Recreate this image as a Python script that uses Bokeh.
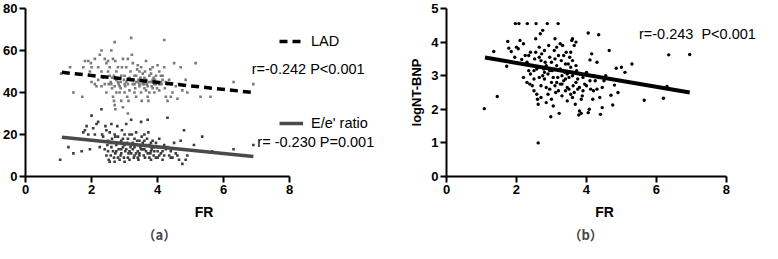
from bokeh.plotting import figure
from bokeh.layouts import row
from bokeh.models import Range1d, FixedTicker, Label, Legend, LegendItem, Title
from bokeh.embed import file_html
from bokeh.resources import INLINE

# ---------------- data ----------------
lad_pairs = [
    (1.08,49),(1.35,52),(1.45,40),(1.72,38),(1.75,52),(1.8,55),(1.9,55),(1.95,50),(1.98,54),(2.05,48),
    (2.0,45),(2.1,44),(2.15,43),(2.2,52),(2.25,58),(2.3,60),(2.1,56),(2.35,47),(2.4,44),(2.45,40),
    (2.5,55),(2.55,52),(2.6,60),(2.65,56),(2.7,64),(2.72,55),(2.75,50),(2.78,47),(2.8,45),(2.82,44),
    (2.6,44),(2.62,42),(2.65,38),(2.68,36),(2.7,34),(2.72,32),(2.75,40),(2.85,43),(2.88,42),(2.9,48),
    (2.92,52),(2.95,56),(2.98,46),(3.0,44),(3.02,43),(3.05,45),(3.08,38),(3.1,30),(3.12,36),(3.15,47),
    (3.18,50),(3.2,66),(3.22,58),(3.25,54),(3.28,46),(3.3,44),(3.32,42),(3.35,48),(3.38,51),(3.4,53),
    (3.42,46),(3.45,44),(3.48,47),(3.5,40),(3.52,36),(3.55,49),(3.58,45),(3.6,42),(3.62,50),(3.65,46),
    (3.68,44),(3.7,38),(3.72,36),(3.75,48),(3.78,51),(3.8,45),(3.82,43),(3.85,42),(3.88,47),(3.9,40),
    (3.92,46),(3.95,44),(3.98,42),(4.0,53),(4.05,50),(4.1,45),(4.12,44),(4.15,48),(4.2,65),(4.22,42),
    (4.25,38),(4.3,36),(4.35,46),(4.4,44),(4.45,40),(4.5,54),(4.55,43),(4.6,37),(4.65,44),(4.7,52),
    (4.75,41),(4.85,46),(4.9,40),(5.15,54),(5.3,38),(5.6,38),(6.3,45),(6.9,44),(2.0,52),(2.2,46),
    (2.3,50),(2.45,54),(2.55,48),(2.58,45),(2.7,43),(2.85,40),(2.9,36),(2.95,33),(3.0,48),(3.05,52),
    (3.1,56),(3.15,41),(3.25,44),(3.3,40),(3.35,38),(3.4,45),(3.45,50),(3.5,52),(3.55,44),(3.6,47),
    (3.65,55),(3.7,43),(3.75,45),(3.8,49),(3.85,46),(3.9,44),(4.0,45),(4.05,41),(4.1,48),(4.2,52),
    (4.25,45),(4.3,44),(2.4,56),(2.5,50),(2.62,47),(2.75,46),(2.88,45),(3.0,40),(3.2,46),(3.3,48),
    (3.45,43),(3.6,44),(3.75,40),(3.95,48),(4.05,44),(2.3,43),(2.52,44),(2.68,48),(2.8,52),(3.1,44),
    (3.35,45),(3.5,46),(3.65,41),(3.85,52),(4.15,46),(4.4,38),
]
ee_pairs = [
    (1.05,8),(1.3,14),(1.45,11),(1.7,12),(1.75,21),(1.8,22),(1.85,24),(1.9,20),(1.95,13),(2.0,29),
    (2.05,23),(2.1,20),(2.15,25),(2.2,26),(2.25,14),(2.3,32),(2.32,20),(2.35,19),(2.4,13),(2.42,24),
    (2.45,22),(2.48,15),(2.5,12),(2.52,8),(2.55,7),(2.58,10),(2.6,25),(2.62,18),(2.65,16),(2.68,9),
    (2.7,7),(2.72,11),(2.75,15),(2.78,24),(2.8,19),(2.82,13),(2.85,8),(2.88,10),(2.9,17),(2.92,22),
    (2.95,14),(2.98,9),(3.0,7),(3.02,12),(3.05,25),(3.08,16),(3.1,18),(3.12,11),(3.15,8),(3.18,14),
    (3.2,27),(3.22,20),(3.25,13),(3.28,9),(3.3,10),(3.32,15),(3.35,21),(3.38,17),(3.4,12),(3.42,8),
    (3.45,11),(3.48,14),(3.5,26),(3.52,19),(3.55,16),(3.58,10),(3.6,13),(3.62,9),(3.65,12),(3.68,18),
    (3.7,27),(3.72,21),(3.75,15),(3.78,11),(3.8,8),(3.82,13),(3.85,17),(3.88,10),(3.9,14),(3.95,9),
    (4.0,12),(4.05,18),(4.1,11),(4.15,8),(4.2,15),(4.25,13),(4.3,28),(4.35,10),(4.4,12),(4.45,9),
    (4.5,16),(4.55,11),(4.6,10),(4.65,8),(4.7,17),(4.75,6),(4.8,22),(4.85,8),(4.9,10),(5.1,15),
    (5.35,19),(5.65,12),(6.3,13),(6.9,15),(2.6,14),(2.7,20),(2.75,12),(2.85,16),(2.95,18),(3.05,13),
    (3.1,9),(3.15,20),(3.25,16),(3.35,11),(3.45,17),(3.55,13),(3.6,20),(3.7,11),(3.8,16),(3.9,12),
    (4.0,9),(4.1,14),(4.2,10),(2.5,17),(2.55,21),(2.65,12),(2.8,9),(2.9,13),(3.0,15),(3.2,11),
    (3.3,18),(3.4,9),(3.5,13),(3.65,15),(3.75,9),(3.85,14),(3.95,16),(4.05,10),(4.15,12),(4.3,14),
    (4.4,9),(2.45,10),(2.58,16),(2.72,19),(2.9,11),(3.0,20),(3.15,12),(3.3,14),(3.45,10),(3.6,17),
    (3.8,12),(4.0,14),
]
bnp_pairs = [
    (1.08,2.02),(1.35,3.72),(1.45,2.38),(1.72,3.28),(1.75,4.02),(1.78,3.82),(1.85,3.72),(1.95,3.55),
    (1.97,4.55),(2.07,4.55),(2.0,3.85),(2.05,3.8),(2.1,4.05),(2.15,3.48),(2.2,2.95),(2.25,3.6),
    (2.3,2.8),(2.31,4.55),(2.35,3.15),(2.38,2.75),(2.4,3.7),(2.45,3.3),(2.5,2.55),(2.52,3.5),
    (2.55,4.1),(2.56,4.55),(2.58,3.2),(2.6,2.3),(2.62,1.0),(2.62,2.15),(2.65,3.85),(2.68,4.25),
    (2.7,2.7),(2.72,3.65),(2.75,4.35),(2.78,3.2),(2.8,2.9),(2.82,3.4),(2.85,2.65),(2.88,4.55),
    (2.9,3.05),(2.92,3.9),(2.95,2.6),(2.98,1.78),(3.0,2.8),(3.02,3.15),(3.05,2.1),(3.08,3.75),
    (3.1,4.1),(3.12,2.5),(3.15,3.3),(3.18,2.95),(3.19,4.55),(3.2,3.6),(3.22,1.88),(3.25,2.75),
    (3.28,3.45),(3.3,2.4),(3.32,3.9),(3.35,2.85),(3.38,3.1),(3.4,2.55),(3.42,3.7),(3.45,2.25),
    (3.48,3.35),(3.5,2.95),(3.52,3.55),(3.55,2.45),(3.58,4.05),(3.6,3.0),(3.62,2.7),(3.65,3.9),
    (3.68,2.15),(3.7,2.8),(3.72,3.15),(3.75,2.6),(3.78,1.83),(3.8,1.95),(3.82,3.05),(3.85,1.88),
    (3.88,2.4),(3.9,2.95),(3.95,2.75),(4.0,3.1),(4.05,1.9),(4.05,4.27),(4.08,2.0),(4.1,3.47),
    (4.12,2.6),(4.15,3.65),(4.18,2.3),(4.2,2.55),(4.25,2.85),(4.3,3.4),(4.35,4.22),(4.38,2.35),
    (4.4,1.85),(4.45,2.05),(4.45,2.65),(4.5,2.85),(4.55,3.0),(4.65,3.75),(4.7,2.42),(4.75,2.13),
    (4.8,2.72),(4.85,3.22),(4.9,2.5),(5.0,3.25),(5.1,3.1),(5.3,3.35),(5.65,2.27),(6.2,2.33),
    (6.3,2.68),(6.35,3.62),(6.95,3.63),(2.2,3.95),(2.3,3.4),(2.4,3.05),(2.5,2.9),(2.55,3.7),
    (2.6,3.25),(2.65,2.95),(2.7,3.45),(2.75,3.0),(2.8,3.75),(2.85,3.3),(2.9,2.45),(2.95,3.55),
    (3.0,3.4),(3.05,2.95),(3.1,2.7),(3.15,3.85),(3.2,2.55),(3.25,3.2),(3.3,3.0),(3.35,3.6),
    (3.4,2.9),(3.45,3.05),(3.5,2.6),(3.55,3.25),(3.6,3.45),(3.65,2.5),(3.7,3.3),(3.75,2.9),
    (3.8,2.65),(3.9,2.55),(4.0,2.7),(4.1,2.85),(4.2,3.0),(4.3,2.6),(2.45,2.7),(2.58,2.45),
    (2.7,2.35),(2.85,2.2),(3.0,2.3),(3.15,2.8),(3.3,2.75),(3.45,2.65),(3.6,2.35),(3.85,2.3),
    (2.35,3.6),(2.5,3.15),(2.65,3.55),(2.8,3.1),(2.95,3.15),(3.1,3.5),(3.25,3.95),(3.4,3.35),
    (3.55,3.7),(3.7,4.0),(3.6,4.1),
]
lad_fr = [p[0] for p in lad_pairs]
lad_val = [p[1] for p in lad_pairs]
ee_fr = [p[0] for p in ee_pairs]
ee_val = [p[1] for p in ee_pairs]
bnp_fr = [p[0] for p in bnp_pairs]
bnp_val = [p[1] for p in bnp_pairs]

# regression line end points
lad_fit_x = [1.1, 6.9]
lad_fit_y = [49.6, 40.0]
ee_fit_x = [1.1, 6.9]
ee_fit_y = [18.7, 9.5]
bnp_fit_x = [1.1, 6.95]
bnp_fit_y = [3.54, 2.5]

x_ticks = [0, 2, 4, 6, 8]
a_y_ticks = [0, 20, 40, 60, 80]
b_y_ticks = [0, 1, 2, 3, 4, 5]

FONT = "Liberation Sans"


def style_axes(p):
    for ax in (p.xaxis[0], p.yaxis[0]):
        ax.axis_line_width = 2
        ax.axis_line_color = "black"
        ax.major_tick_line_width = 2
        ax.major_tick_line_color = "black"
        ax.major_tick_out = 6
        ax.major_tick_in = 0
        ax.minor_tick_line_color = None
        ax.major_label_text_font = FONT
        ax.major_label_text_font_style = "bold"
        ax.major_label_text_font_size = "13px"
        ax.major_label_text_color = "black"
        ax.major_label_standoff = 2
        ax.axis_label_text_font = FONT
        ax.axis_label_text_font_style = "bold"
        ax.axis_label_text_font_size = "14px"
        ax.axis_label_text_color = "black"
    p.xgrid.visible = False
    p.ygrid.visible = False
    p.outline_line_color = None


# ---------------- panel (a) ----------------
pa = figure(width=382, height=243, output_backend="svg", toolbar_location=None,
            x_range=Range1d(0, 10.81), y_range=Range1d(0, 80),
            min_border_left=0, min_border_right=0, min_border_top=8, min_border_bottom=0)
style_axes(pa)
pa.xaxis.ticker = FixedTicker(ticks=x_ticks)
pa.xaxis.bounds = (0, 8)
pa.yaxis.ticker = FixedTicker(ticks=a_y_ticks)
pa.xaxis.axis_label = "FR"
pa.xaxis.axis_label_standoff = 7

pa.scatter(lad_fr, lad_val, marker="square", size=2.6, color="#7a7a7a", line_color=None)
pa.scatter(ee_fr, ee_val, marker="square", size=2.6, color="#3c3c3c", line_color=None)
r_lad = pa.line(lad_fit_x, lad_fit_y, line_color="black", line_width=3.5, line_dash="8 5")
r_ee = pa.line(ee_fit_x, ee_fit_y, line_color="#4a4a4a", line_width=3.5)

leg = Legend(items=[LegendItem(label="LAD", renderers=[r_lad]),
                    LegendItem(label="E/e' ratio", renderers=[r_ee])],
             location=(254, 45), padding=0, margin=0, spacing=66,
             border_line_color=None, background_fill_alpha=0,
             glyph_width=24, glyph_height=16, label_height=16, label_standoff=8,
             label_text_font=FONT, label_text_font_size="14.5px", label_text_color="black")
pa.add_layout(leg, "center")

pa.add_layout(Label(x=6.85, y=51, text="r=-0.242 P<0.001", text_font=FONT,
                    text_font_size="14.5px", text_baseline="middle", text_color="black"))
pa.add_layout(Label(x=7.02, y=16.2, text="r= -0.230 P=0.001", text_font=FONT,
                    text_font_size="14.5px", text_baseline="middle", text_color="black"))
pa.add_layout(Title(text="（a）", align="left", offset=117, text_font="Noto Sans CJK SC",
                    text_font_size="13px", text_font_style="bold", standoff=0), "below")

# ---------------- panel (b) ----------------
pb = figure(width=380, height=243, output_backend="svg", toolbar_location=None,
            x_range=Range1d(0, 9.03), y_range=Range1d(0, 5),
            min_border_left=64, min_border_right=0, min_border_top=8, min_border_bottom=0)
style_axes(pb)
pb.xaxis.ticker = FixedTicker(ticks=x_ticks)
pb.xaxis.bounds = (0, 8)
pb.yaxis.ticker = FixedTicker(ticks=b_y_ticks)
pb.xaxis.axis_label = "FR"
pb.xaxis.axis_label_standoff = 7
pb.yaxis.axis_label = "logNT-BNP"
pb.yaxis.axis_label_standoff = 4
pb.yaxis.axis_label_text_font_size = "13px"

pb.scatter(bnp_fr, bnp_val, marker="circle", size=3.4, color="black", line_color=None)
pb.line(bnp_fit_x, bnp_fit_y, line_color="black", line_width=4)
pb.add_layout(Label(x=5.5, y=4.25, text="r=-0.243\u00a0\u00a0P<0.001", text_font=FONT,
                    text_font_size="14.5px", text_baseline="middle", text_color="black"))
pb.add_layout(Title(text="（b）", align="left", offset=122, text_font="Noto Sans CJK SC",
                    text_font_size="13px", text_font_style="bold", standoff=0), "below")

layout = row(pa, pb, spacing=0)
open("out.html", "w").write(file_html(layout, INLINE))
